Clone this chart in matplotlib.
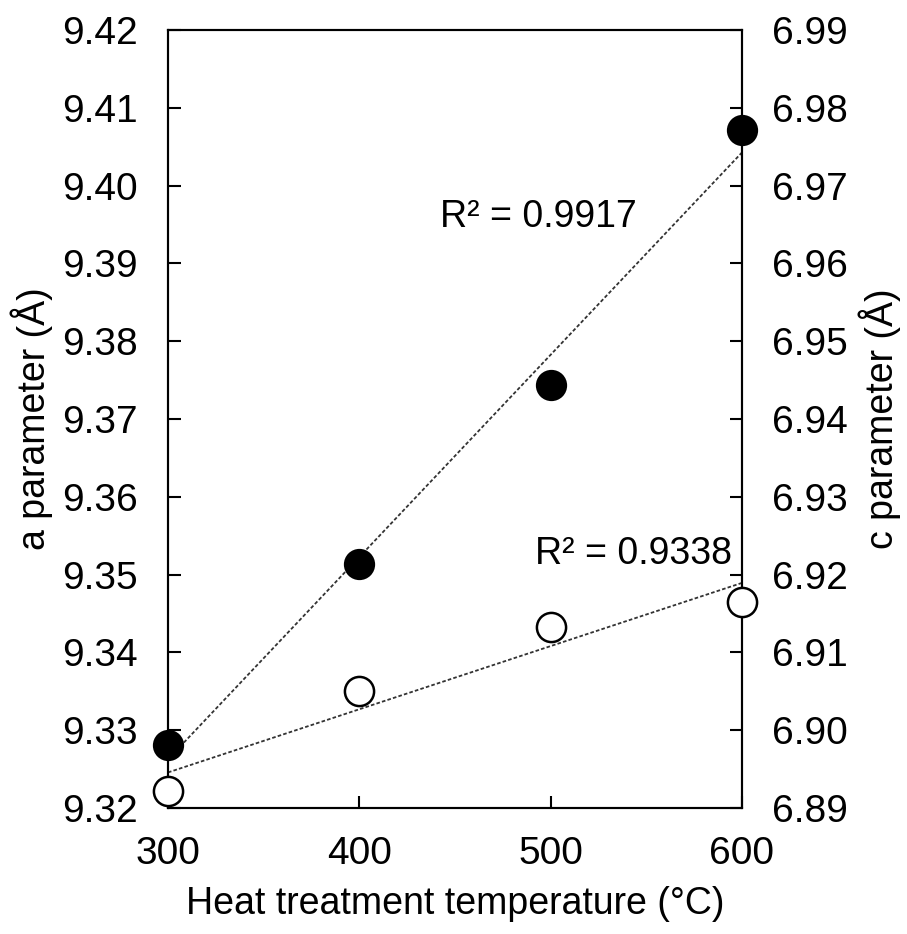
import numpy as np
import matplotlib
matplotlib.use("Agg")
import matplotlib.pyplot as plt

plt.rcParams['font.family'] = ['Liberation Sans', 'DejaVu Sans']

temperature = [300, 400, 500, 600]
a_param = [9.3281, 9.3514, 9.3744, 9.4071]
c_param = [6.8922, 6.9050, 6.9133, 6.9165]
r2_a_label = "R² = 0.9917"
r2_c_label = "R² = 0.9338"
x_ticks = [300, 400, 500, 600]
a_ticks = [9.32, 9.33, 9.34, 9.35, 9.36, 9.37, 9.38, 9.39, 9.40, 9.41, 9.42]
c_ticks = [6.89, 6.90, 6.91, 6.92, 6.93, 6.94, 6.95, 6.96, 6.97, 6.98, 6.99]

fig = plt.figure(figsize=(9.07, 9.34), dpi=100)
ax = fig.add_axes([0.1852, 0.1349, 0.818 - 0.1852, 0.9679 - 0.1349])
ax2 = ax.twinx()

fs = 27
tfs = 28
x = np.array(temperature, dtype=float)

# trend lines
pa = np.polyfit(x, a_param, 1)
pc = np.polyfit(x, c_param, 1)
xl = np.array([x.min(), x.max()])
ax.plot(xl, np.polyval(pa, xl), linestyle=(0, (2, 1.2)), color='#333333', lw=1.3, zorder=2)
ax2.plot(xl, np.polyval(pc, xl), linestyle=(0, (2, 1.2)), color='#333333', lw=1.3, zorder=2)

ax.plot(x, a_param, 'o', ms=21, mfc='black', mec='black', mew=1.5, clip_on=False, zorder=5)
ax2.plot(x, c_param, 'o', ms=21, mfc='white', mec='black', mew=1.8, clip_on=False, zorder=5)

ax.set_xlim(300, 600)
ax.set_ylim(9.32, 9.42)
ax2.set_ylim(6.89, 6.99)
ax.set_xticks(x_ticks)
ax.set_yticks(a_ticks)
ax2.set_yticks(c_ticks)
ax.set_yticklabels([f"{v:.2f}" for v in a_ticks])
ax2.set_yticklabels([f"{v:.2f}" for v in c_ticks])
ax.set_xticklabels([str(v) for v in x_ticks])

for a_ in (ax, ax2):
    for s in a_.spines.values():
        s.set_linewidth(1.5)
    a_.tick_params(direction='in', length=9, width=1.5, labelsize=tfs, pad=22)
ax.tick_params(axis='x', pad=20)

ax.set_xlabel("Heat treatment temperature (°C)", fontsize=fs, labelpad=10)
ax.set_ylabel("a parameter (Å)", fontsize=fs, labelpad=6)
ax2.set_ylabel("c parameter (Å)", fontsize=fs, labelpad=7)

ax.text(442, 9.3960, r2_a_label, fontsize=fs, ha='left', va='center')
ax2.text(492, 6.9226, r2_c_label, fontsize=fs, ha='left', va='center')

fig.savefig("out.png", dpi=100)
